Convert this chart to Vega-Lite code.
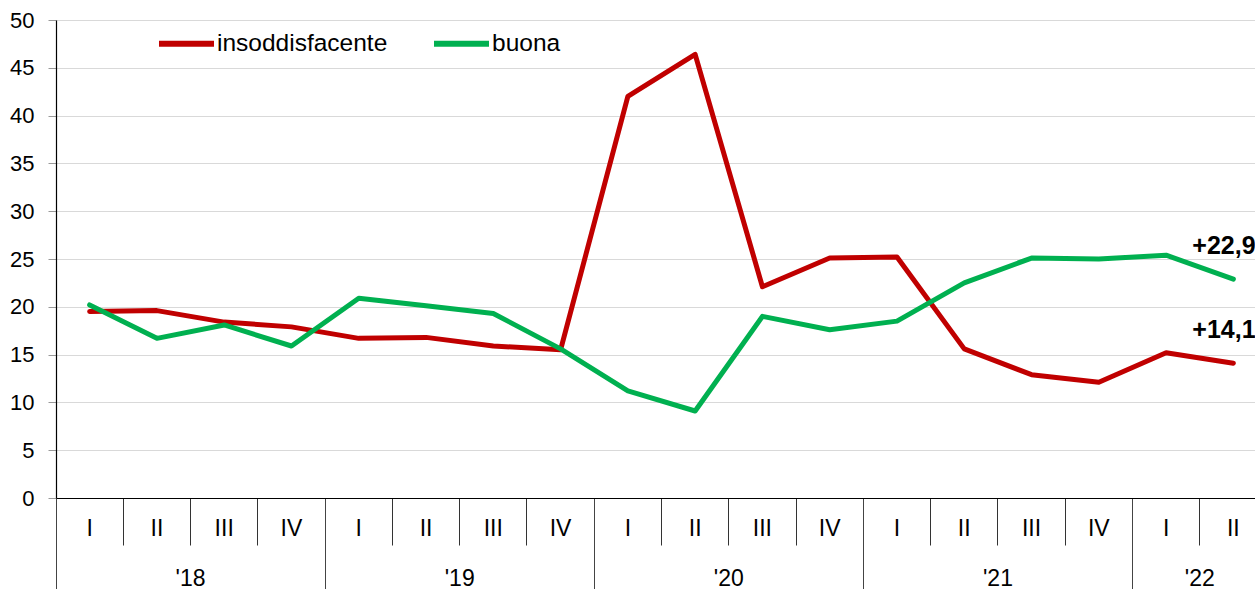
{
  "$schema": "https://vega.github.io/schema/vega-lite/v6.json",
  "width": 1211,
  "height": 478,
  "autosize": {"type": "none"},
  "padding": {"left": 56, "top": 20, "right": 0, "bottom": 91},
  "config": {
    "font": "Liberation Sans",
    "view": {"stroke": null},
    "axis": {"labelFont": "Liberation Sans", "labelColor": "#000"},
    "legend": {"labelFont": "Liberation Sans"}
  },
  "datasets": {
    "series": [
      {"q": "2018-I", "s": "insoddisfacente", "v": 19.5},
      {"q": "2018-II", "s": "insoddisfacente", "v": 19.6},
      {"q": "2018-III", "s": "insoddisfacente", "v": 18.4},
      {"q": "2018-IV", "s": "insoddisfacente", "v": 17.9},
      {"q": "2019-I", "s": "insoddisfacente", "v": 16.7},
      {"q": "2019-II", "s": "insoddisfacente", "v": 16.8},
      {"q": "2019-III", "s": "insoddisfacente", "v": 15.9},
      {"q": "2019-IV", "s": "insoddisfacente", "v": 15.5},
      {"q": "2020-I", "s": "insoddisfacente", "v": 42.0},
      {"q": "2020-II", "s": "insoddisfacente", "v": 46.4},
      {"q": "2020-III", "s": "insoddisfacente", "v": 22.1},
      {"q": "2020-IV", "s": "insoddisfacente", "v": 25.1},
      {"q": "2021-I", "s": "insoddisfacente", "v": 25.2},
      {"q": "2021-II", "s": "insoddisfacente", "v": 15.6},
      {"q": "2021-III", "s": "insoddisfacente", "v": 12.9},
      {"q": "2021-IV", "s": "insoddisfacente", "v": 12.1},
      {"q": "2022-I", "s": "insoddisfacente", "v": 15.2},
      {"q": "2022-II", "s": "insoddisfacente", "v": 14.1},
      {"q": "2018-I", "s": "buona", "v": 20.2},
      {"q": "2018-II", "s": "buona", "v": 16.7},
      {"q": "2018-III", "s": "buona", "v": 18.1},
      {"q": "2018-IV", "s": "buona", "v": 15.9},
      {"q": "2019-I", "s": "buona", "v": 20.9},
      {"q": "2019-II", "s": "buona", "v": 20.1},
      {"q": "2019-III", "s": "buona", "v": 19.3},
      {"q": "2019-IV", "s": "buona", "v": 15.6},
      {"q": "2020-I", "s": "buona", "v": 11.2},
      {"q": "2020-II", "s": "buona", "v": 9.1},
      {"q": "2020-III", "s": "buona", "v": 19.0},
      {"q": "2020-IV", "s": "buona", "v": 17.6},
      {"q": "2021-I", "s": "buona", "v": 18.5},
      {"q": "2021-II", "s": "buona", "v": 22.5},
      {"q": "2021-III", "s": "buona", "v": 25.1},
      {"q": "2021-IV", "s": "buona", "v": 25.0},
      {"q": "2022-I", "s": "buona", "v": 25.4},
      {"q": "2022-II", "s": "buona", "v": 22.9}
    ],
    "endBuona": [{"q": "2022-II", "s": "buona", "v": 22.9, "label": "+22,9"}],
    "endInsodd": [{"q": "2022-II", "s": "insoddisfacente", "v": 14.1, "label": "+14,1"}]
  },
  "layer": [
    {
      "data": {"name": "series"},
      "mark": {"type": "line", "strokeWidth": 5, "strokeCap": "round", "strokeJoin": "round"},
      "encoding": {
        "x": {
          "field": "q",
          "type": "ordinal",
          "scale": {
            "type": "band",
            "domain": ["2018-I","2018-II","2018-III","2018-IV","2019-I","2019-II","2019-III","2019-IV","2020-I","2020-II","2020-III","2020-IV","2021-I","2021-II","2021-III","2021-IV","2022-I","2022-II"],
            "paddingInner": 0,
            "paddingOuter": 0
          },
          "axis": {
            "orient": "bottom",
            "title": null,
            "bandPosition": 0,
            "domain": true,
            "domainColor": "#000",
            "domainWidth": 1.2,
            "tickColor": "#333",
            "tickSize": 47,
            "labelExpr": "split(datum.value, '-')[1]",
            "labelPadding": -17,
            "labelBaseline": "middle",
            "labelAngle": 0,
            "labelFontSize": 23
          }
        },
        "y": {
          "field": "v",
          "type": "quantitative",
          "scale": {"domain": [0, 50], "nice": false},
          "axis": {
            "title": null,
            "values": [0, 5, 10, 15, 20, 25, 30, 35, 40, 45, 50],
            "grid": true,
            "gridColor": "#d9d9d9",
            "domain": true,
            "domainColor": "#000",
            "domainWidth": 1.2,
            "tickColor": "#999",
            "tickSize": 8,
            "labelPadding": 14,
            "labelFontSize": 22
          }
        },
        "color": {
          "field": "s",
          "type": "nominal",
          "scale": {"domain": ["insoddisfacente", "buona"], "range": ["#C00000", "#00B050"]},
          "legend": {
            "title": null,
            "orient": "none",
            "legendX": 100,
            "legendY": -7,
            "direction": "horizontal",
            "padding": 0,
            "symbolType": "stroke",
            "symbolSize": 3025,
            "symbolStrokeWidth": 6,
            "labelFontSize": 24.5,
            "labelColor": "#000",
            "labelOffset": 0,
            "labelLimit": 0,
            "columnPadding": 34
          }
        }
      }
    },
    {
      "data": {"name": "endBuona"},
      "mark": {"type": "text", "align": "left", "baseline": "middle", "dx": -41, "dy": -33, "fontSize": 25, "fontWeight": "bold", "color": "#000"},
      "encoding": {
        "x": {
          "field": "q",
          "type": "ordinal",
          "axis": {
            "orient": "bottom",
            "title": null,
            "values": ["2018-I", "2019-I", "2020-I", "2021-I", "2022-I"],
            "bandPosition": 0,
            "tickSize": 91,
            "tickColor": "#444",
            "labels": false,
            "domain": true,
            "domainColor": "#000",
            "domainWidth": 1.2
          }
        },
        "y": {"field": "v", "type": "quantitative", "axis": null},
        "text": {"field": "label"}
      }
    },
    {
      "data": {"name": "endInsodd"},
      "mark": {"type": "text", "align": "left", "baseline": "middle", "dx": -41, "dy": -33, "fontSize": 25, "fontWeight": "bold", "color": "#000"},
      "encoding": {
        "x": {
          "field": "q",
          "type": "ordinal",
          "axis": {
            "orient": "bottom",
            "title": null,
            "values": ["2018-III", "2019-III", "2020-III", "2021-III", "2022-II"],
            "bandPosition": 0,
            "ticks": false,
            "domain": false,
            "labelExpr": "\"'\" + substring(datum.value, 2, 4)",
            "labelOffset": -33.6,
            "labelPadding": 80,
            "labelBaseline": "middle",
            "labelAngle": 0,
            "labelFontSize": 23
          }
        },
        "y": {"field": "v", "type": "quantitative", "axis": null},
        "text": {"field": "label"}
      }
    }
  ],
  "resolve": {"axis": {"x": "independent", "y": "independent"}}
}
